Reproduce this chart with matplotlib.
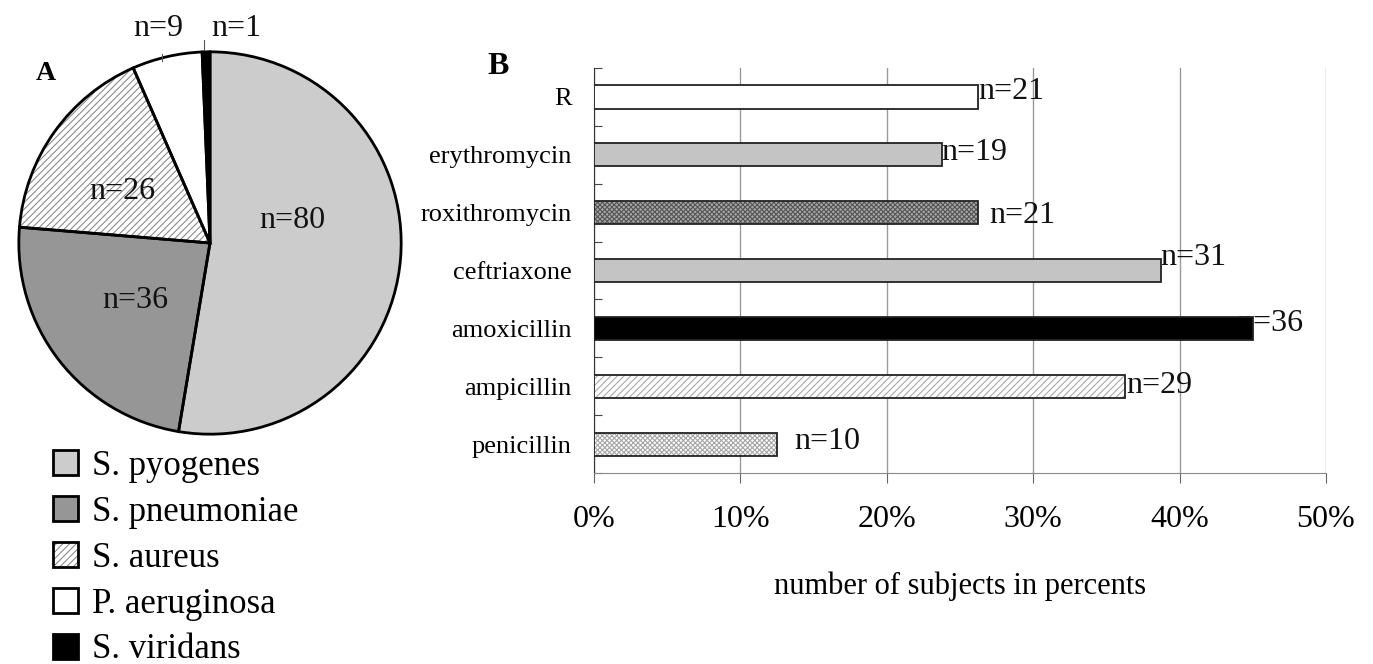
import matplotlib
matplotlib.use('Agg')
import matplotlib.pyplot as plt
import numpy as np

plt.rcParams['font.family'] = ['Liberation Serif', 'DejaVu Serif']
plt.rcParams['hatch.linewidth'] = 0.8

# panel A - isolated species
species = ['S. pyogenes', 'S. pneumoniae', 'S. aureus', 'P. aeruginosa', 'S. viridans']
species_n = [80, 36, 26, 9, 1]

# panel B - resistance, listed top to bottom
drugs = ['R', 'erythromycin', 'roxithromycin', 'ceftriaxone', 'amoxicillin', 'ampicillin', 'penicillin']
drug_pct = [26.25, 23.75, 26.25, 38.75, 45.0, 36.25, 12.5]
drug_n = [21, 19, 21, 31, 36, 29, 10]
pct_ticks = [0, 10, 20, 30, 40, 50]

W, H = 1373, 664
fig = plt.figure(figsize=(W / 100, H / 100), dpi=100)

# ---------- A: pie ----------
axA = fig.add_axes([15 / W, 1 - 438 / H, 390 / W, 390 / H])
pie_face = ['#cccccc', '#969696', 'white', 'white', 'black']
pie_hatch = [None, None, '/////', None, None]
pie_hcol = ['#cccccc', '#969696', '#8c8c8c', 'white', 'black']
fill_w, _ = axA.pie(species_n, startangle=90, counterclock=False, colors=pie_face,
                    wedgeprops=dict(linewidth=0))
for w, h, c in zip(fill_w, pie_hatch, pie_hcol):
    w.set_edgecolor(c)
    if h:
        w.set_hatch(h)
line_w, _ = axA.pie(species_n, startangle=90, counterclock=False,
                    wedgeprops=dict(fill=False, edgecolor='black', linewidth=2))
axA.set_xlim(-1.02, 1.02)
axA.set_ylim(-1.02, 1.02)
axA.axis('off')

# label positions inside the pie (layout only)
pie_lab_xy = [(0.43, 0.12), (-0.39, -0.30), (-0.46, 0.27), (-0.27, 1.12), (0.14, 1.12)]
for n, (lx, ly) in zip(species_n, pie_lab_xy):
    axA.text(lx, ly, f'n={n}', fontsize=23, ha='center', va='center', color='#111')
axA.plot([-0.25, -0.25], [0.99, 0.95], color='#555', lw=0.8, clip_on=False)
axA.plot([-0.03, -0.03], [1.06, 1.01], color='#555', lw=0.8, clip_on=False)

fig.legend([(f, l) for f, l in zip(fill_w, line_w)], species,
           loc='upper left', bbox_to_anchor=(53 / W, 1 - 450 / H), frameon=False,
           fontsize=25, handlelength=0.72, handleheight=0.72, handletextpad=0.4,
           labelspacing=0.37, borderpad=0, borderaxespad=0)

fig.text(46 / W, 1 - 73 / H, 'A', fontsize=20, fontweight='bold', ha='center', va='center')

# ---------- B: horizontal bars ----------
axB = fig.add_axes([594 / W, 1 - 473 / H, (1326 - 594) / W, (473 - 68) / H])
y = np.arange(len(drugs))
bar_face = ['white', '#c4c4c4', '#a8a8a8', '#c4c4c4', 'black', 'white', 'white']
bar_hatch = [None, None, 'xxxxxxx', None, None, '/////', 'xxxxxxx']
bar_hcol = ['white', '#c4c4c4', '#555555', '#c4c4c4', 'black', '#a8a8a8', '#a6a6a6']
for i in range(len(drugs)):
    axB.barh(y[i], drug_pct[i], height=0.4, color=bar_face[i], edgecolor=bar_hcol[i],
             hatch=bar_hatch[i], linewidth=0, zorder=3)
axB.barh(y, drug_pct, height=0.4, fill=False, edgecolor='#222222', linewidth=1.3, zorder=4)

# n= labels, offsets in pixels from bar end (layout only)
lab_dx = [0, 0, 11, -1, -16, 2, 17]
lab_dy = [5, 2, -3, 13, 5, 1, 3]
for i in range(len(drugs)):
    axB.annotate(f'n={drug_n[i]}', xy=(drug_pct[i], y[i]),
                 xytext=(lab_dx[i] * 0.72, lab_dy[i] * 0.72), textcoords='offset points',
                 fontsize=23, ha='left', va='center', color='#111', zorder=2,
                 annotation_clip=False)

axB.set_xlim(0, 50)
axB.set_ylim(len(drugs) - 0.5, -0.5)
axB.set_xticks(pct_ticks, [f'{t}%' for t in pct_ticks])
axB.set_yticks(np.arange(-0.5, len(drugs), 1.0))
axB.set_yticklabels([])
axB.set_yticks(y, drugs, minor=True)
axB.tick_params(axis='y', which='major', direction='in', length=6, color='#444')
axB.tick_params(axis='y', which='minor', length=0, pad=16, labelsize=19)
axB.tick_params(axis='x', direction='out', length=7, pad=16, labelsize=23, color='#666')
axB.grid(axis='x', color='#9a9a9a', linewidth=1)
axB.set_axisbelow(True)
for s in ['top', 'right']:
    axB.spines[s].set_visible(False)
axB.spines['left'].set_color('#333333')
axB.spines['bottom'].set_color('#8a8a8a')
axB.set_xlabel('number of subjects in percents', fontsize=22, va='center')
axB.xaxis.set_label_coords(0.5, -0.28)

fig.text(498 / W, 1 - 66 / H, 'B', fontsize=23, fontweight='bold', ha='center', va='center')

fig.savefig('out.png', dpi=100)
